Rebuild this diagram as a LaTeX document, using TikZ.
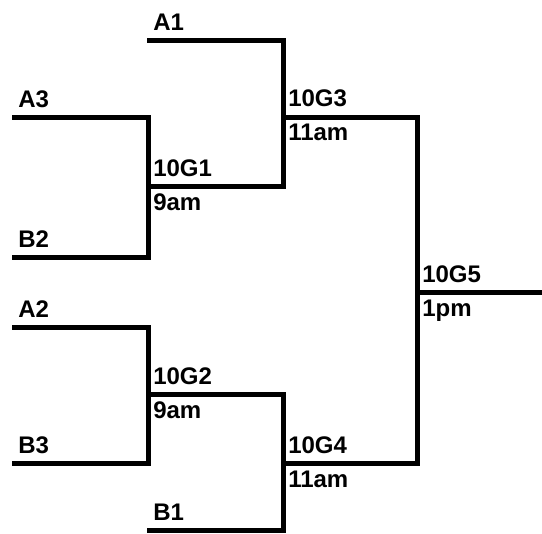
\documentclass[tikz,border=0pt]{standalone}
\usepackage{fontspec}
\setmainfont{Liberation Sans}
\begin{document}
\begin{tikzpicture}[x=0.75pt,y=-0.75pt,
  bline/.style={line width=3.75pt,line cap=butt,line join=miter},
  lbl/.style={font=\fontsize{18}{20}\selectfont\bfseries,inner sep=0pt,anchor=base west}]
\useasboundingbox (0,0) rectangle (542,533);
% coordinates
\coordinate (a1s) at (147,40);
\coordinate (a1e) at (283,40);
\coordinate (a3s) at (12,117);
\coordinate (a3e) at (148,117);
\coordinate (b2s) at (12,257);
\coordinate (b2e) at (148,257);
\coordinate (g1s) at (148,186);
\coordinate (g1e) at (283,186);
\coordinate (g3s) at (283,117);
\coordinate (g3e) at (417,117);
\coordinate (a2s) at (12,327);
\coordinate (a2e) at (148,327);
\coordinate (b3s) at (12,463);
\coordinate (b3e) at (148,463);
\coordinate (g2s) at (148,394);
\coordinate (g2e) at (283,394);
\coordinate (b1s) at (147,530);
\coordinate (b1e) at (283,530);
\coordinate (g4s) at (283,463);
\coordinate (g4e) at (417,463);
\coordinate (g5s) at (417,292);
\coordinate (g5e) at (542,292);
% lines
\draw[bline] (a3s) -- (a3e) -- (b2e) -- (b2s);
\draw[bline] (a1s) -- (a1e) -- (g1e) -- (g1s);
\draw[bline] (a2s) -- (a2e) -- (b3e) -- (b3s);
\draw[bline] (g2s) -- (g2e) -- (b1e) -- (b1s);
\draw[bline] (g3s) -- (g3e) -- (g4e) -- (g4s);
\draw[bline] (g5s) -- (g5e);
% labels
\node[lbl] (la1) at (153,30) {A1};
\node[lbl] (la3) at (18,107) {A3};
\node[lbl] (lb2) at (18,247) {B2};
\node[lbl] (lg1) at (153,176) {10G1};
\node[lbl] (lt1) at (153,210) {9am};
\node[lbl] (lg3) at (288,106) {10G3};
\node[lbl] (lt3) at (288,140) {11am};
\node[lbl] (la2) at (18,317) {A2};
\node[lbl] (lb3) at (18,453) {B3};
\node[lbl] (lg2) at (153,384) {10G2};
\node[lbl] (lt2) at (153,418) {9am};
\node[lbl] (lb1) at (153,520) {B1};
\node[lbl] (lg4) at (288,453) {10G4};
\node[lbl] (lt4) at (288,487) {11am};
\node[lbl] (lg5) at (422,282) {10G5};
\node[lbl] (lt5) at (422,316) {1pm};
\end{tikzpicture}
\end{document}
